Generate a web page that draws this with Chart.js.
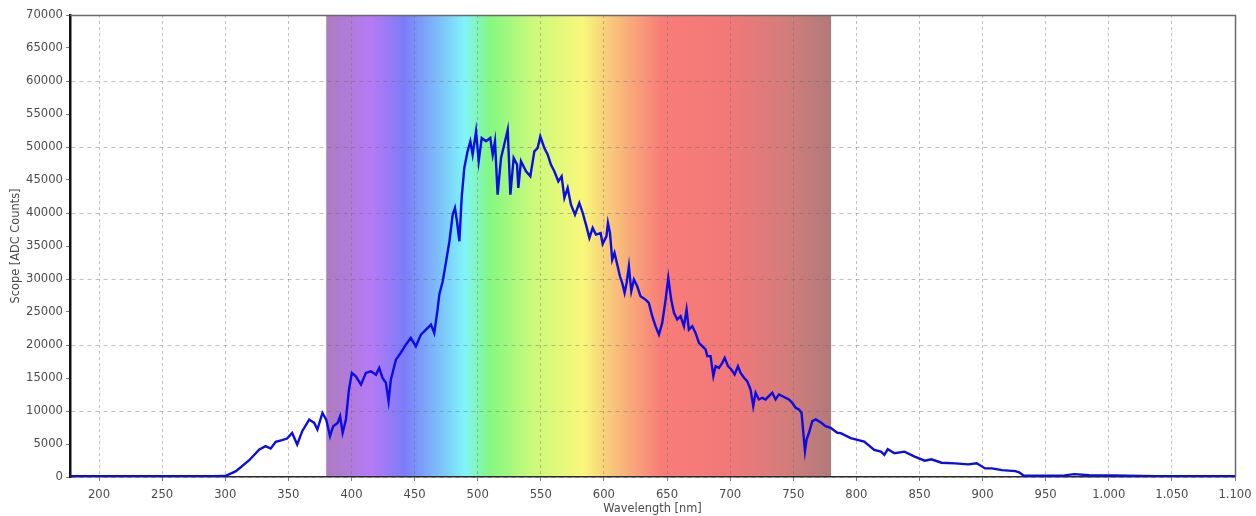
<!DOCTYPE html>
<html>
<head>
<meta charset="utf-8">
<title>Spectrum</title>
<script src="https://cdn.jsdelivr.net/npm/chart.js@4/dist/chart.umd.min.js"></script>
<style>
  html, body { margin: 0; padding: 0; background: #ffffff; }
  #wrap { width: 1256px; height: 516px; }
</style>
</head>
<body>
<div id="wrap"><canvas id="chart" width="1256" height="516"></canvas></div>
<script>
// Measured spectrum: wavelength [nm] and detector counts
const wavelengths = [
  177, 200, 250, 290, 300, 308.5, 319, 327, 332, 336, 340, 345, 349, 353, 357, 361, 366.5, 370.5, 373, 377,
  380, 383, 385.5, 389, 391, 393, 395.6, 398, 400.3, 403.5, 407.5, 411.4, 415.4, 419.4, 422, 424.6, 427.3, 429.4, 431.2, 435.2,
  439, 443, 447, 451, 455, 459, 463, 465.6, 468.2, 469.6, 472.3, 475, 477.6, 480.2, 482, 483.6, 485.5, 487.3, 489.4, 492,
  494.2, 496, 498.7, 500.8, 503.2, 506.6, 510, 511.9, 513.7, 515.8, 518.5, 521, 523.8, 525.9, 528.5, 531.2, 532.2, 534.3, 538.3, 541.7,
  544.9, 547.5, 549.6, 552.8, 555.5, 558, 560.7, 563.9, 566.5, 568.7, 571.3, 573.9, 577.1, 580.5, 583.2, 585.8, 588.5, 591.1, 593.7, 597.4,
  599, 602, 603.2, 604.8, 606.6, 608.4, 610.6, 612.7, 614.5, 616.4, 618, 619.8, 621.7, 623.8, 626.4, 629, 633, 635.6, 638.3, 640.9,
  643.6, 646.2, 648.9, 651, 653.3, 655.5, 658.1, 660.7, 663.4, 665.5, 667.3, 670, 672.6, 675.3, 677.9, 680.5, 681.9, 684.5, 686.7, 688.5,
  691.1, 693.8, 695.7, 698.3, 700.9, 703.6, 706.2, 708.3, 711, 713.5, 716.2, 718.3, 720.2, 722.8, 725.4, 728.1, 730.7, 733.4, 736, 738.7,
  741.3, 743.9, 746.6, 749.2, 751.9, 754.5, 756.6, 758, 759.3, 760.6, 762.5, 765.1, 767.8, 771.7, 775.6, 779.6, 784.9, 787.6, 795.5, 806.2,
  814.2, 819.5, 822.2, 824.9, 830.2, 838.2, 846.2, 854.2, 859.5, 867.5, 878.1, 888.7, 895.4, 902, 907.4, 915.4, 926, 929, 932.7, 957.9,
  965, 972.6, 984.6, 1003.2, 1037.8, 1100
];
const counts = [
  120, 130, 120, 130, 150, 880, 2540, 4160, 4670, 4310, 5320, 5580, 5830, 6680, 4920, 6940, 8700, 8200, 7190, 9710,
  8700, 6180, 7690, 8200, 9210, 6680, 8700, 13240, 15770, 15260, 14000, 15770, 16020, 15510, 16520, 15010, 14250, 11480, 14750, 17780,
  18790, 20050, 21060, 19800, 21570, 22320, 23080, 21820, 25350, 27650, 29670, 32700, 35720, 39760, 40770, 38750, 35720, 42280, 46820, 49340,
  50860, 48840, 52370, 47830, 51360, 50860, 51360, 48840, 50860, 42790, 48340, 50350, 52620, 42790, 48340, 47330, 43790, 47830, 46320, 45560,
  49340, 49850, 51610, 49850, 48840, 47330, 46320, 44800, 45560, 42280, 43790, 41270, 39760, 41520, 40010, 38240, 36230, 37740, 36730, 36970,
  35300, 36470, 38490, 36970, 32940, 33950, 32180, 30410, 29410, 27890, 29410, 31930, 28140, 29910, 28900, 27390, 26880, 26380, 24360, 22850,
  21590, 23350, 26880, 30160, 26880, 24870, 23860, 24360, 22850, 25370, 22340, 22850, 21840, 20320, 19820, 19320, 18310, 18310, 15280, 16790,
  16540, 17300, 18050, 16790, 16290, 15530, 16790, 15780, 15030, 14520, 13260, 10740, 12760, 11750, 12000, 11750, 12250, 12760, 11750, 12510,
  12250, 12000, 11750, 11240, 10490, 10230, 9730, 6700, 3930, 5700, 6700, 8470, 8720, 8300, 7710, 7460, 6700, 6640, 5890, 5370,
  4100, 3840, 3340, 4210, 3590, 3840, 3090, 2470, 2680, 2160, 2070, 1910, 2070, 1300, 1300, 1040, 890, 700, 180, 180,
  250, 440, 270, 230, 120, 120
];

// Axis ranges and ticks
const xRange = [177, 1100];
const xStep = 50;
const yRange = [0, 70000];
const yStep = 5000;
const yGridEvery = 10000;

// Visible-light band behind the curve: wavelength stops and their tints
const bandNm = [380, 416, 442, 473, 490, 509, 543, 583, 606, 645, 699, 747, 780];
const bandColors = [
  '#ad7cbf', '#b57af5', '#7b7cf8', '#7cc9f9', '#80f5f8', '#82f882', '#c9f97a',
  '#f8f87a', '#f8c67a', '#f87d78', '#f27878', '#d27c7c', '#b07a7a'
];

const points = wavelengths.map((w, i) => ({ x: w, y: counts[i] }));

// 1000 -> "1.000"
const fmtThousands = v => {
  const s = String(Math.round(v));
  return s.length > 3 ? s.slice(0, -3) + '.' + s.slice(-3) : s;
};

const spectrumBand = {
  id: 'spectrumBand',
  beforeDraw(chart) {
    const { ctx, chartArea: a, scales: { x } } = chart;
    ctx.save();
    ctx.fillStyle = '#ffffff';
    ctx.fillRect(0, 0, chart.width, chart.height);
    const x0 = x.getPixelForValue(bandNm[0]);
    const x1 = x.getPixelForValue(bandNm[bandNm.length - 1]);
    const g = ctx.createLinearGradient(x0, 0, x1, 0);
    bandNm.forEach((nm, i) => {
      g.addColorStop((nm - bandNm[0]) / (bandNm[bandNm.length - 1] - bandNm[0]), bandColors[i]);
    });
    ctx.fillStyle = g;
    ctx.fillRect(x0, a.top, x1 - x0, a.bottom - a.top);
    ctx.restore();
  },
  afterDraw(chart) {
    // top and right frame of the plot area
    const { ctx, chartArea: a } = chart;
    ctx.save();
    ctx.strokeStyle = '#6a6a6a';
    ctx.lineWidth = 1.5;
    ctx.beginPath();
    ctx.moveTo(a.left, a.top + 0.5);
    ctx.lineTo(a.right + 0.5, a.top + 0.5);
    ctx.lineTo(a.right + 0.5, a.bottom);
    ctx.stroke();
    ctx.restore();
  }
};

const tickFont = { family: 'DejaVu Sans', size: 11.6 };
const titleFont = { family: 'DejaVu Sans', size: 11.4 };

new Chart(document.getElementById('chart'), {
  type: 'line',
  data: {
    datasets: [{
      data: points,
      borderColor: '#0c0ce4',
      borderWidth: 2.4,
      pointRadius: 0,
      tension: 0,
      fill: false
    }]
  },
  options: {
    responsive: false,
    animation: false,
    events: [],
    layout: { padding: { top: 15, right: 21, left: 2, bottom: 0 } },
    plugins: { legend: { display: false }, tooltip: { enabled: false } },
    scales: {
      x: {
        type: 'linear',
        min: xRange[0],
        max: xRange[1],
        afterFit(s) { s.height = 39; s.paddingRight = 0; },
        ticks: {
          stepSize: xStep,
          includeBounds: false,
          autoSkip: false,
          maxRotation: 0,
          padding: 7,
          color: '#4a4a4a',
          font: tickFont,
          callback: v => fmtThousands(v)
        },
        grid: {
          color: 'rgba(105,105,105,0.42)',
          tickColor: '#7a7a7a',
          tickLength: 4,
          lineWidth: 1
        },
        border: { display: true, color: '#2a2a2a', width: 1.5, dash: [3, 3] },
        title: {
          display: true,
          text: 'Wavelength [nm]',
          color: '#4a4a4a',
          font: titleFont,
          padding: { top: 0, bottom: 0 }
        }
      },
      y: {
        min: yRange[0],
        max: yRange[1],
        afterFit(s) { s.width = 68; },
        ticks: {
          stepSize: yStep,
          padding: 3,
          color: '#4a4a4a',
          font: tickFont,
          callback: v => String(v)
        },
        grid: {
          color: c => (c.tick && c.tick.value % yGridEvery === 0) ? 'rgba(105,105,105,0.42)' : 'rgba(0,0,0,0)',
          tickColor: '#7a7a7a',
          tickLength: 4,
          lineWidth: 1
        },
        border: { display: true, color: '#111111', width: 2.5, dash: [4, 4] },
        title: {
          display: true,
          text: 'Scope [ADC Counts]',
          color: '#4a4a4a',
          font: titleFont,
          padding: { top: 7, bottom: 0 }
        }
      }
    }
  },
  plugins: [spectrumBand]
});
</script>
</body>
</html>
